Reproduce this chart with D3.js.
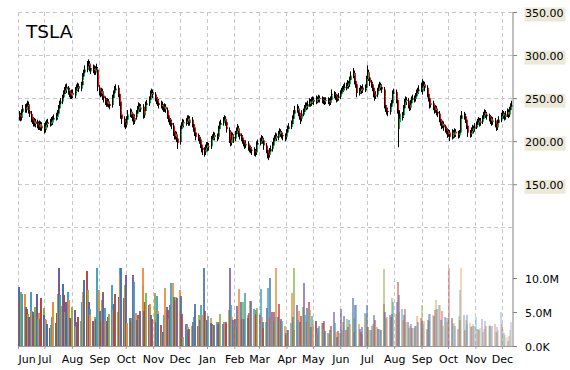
<!DOCTYPE html>
<html><head><meta charset="utf-8">
<script src="https://cdn.jsdelivr.net/npm/d3@7"></script>
<style>body{margin:0;background:#fff}svg{display:block}text{font-family:"DejaVu Sans",Verdana,sans-serif}</style>
</head><body><svg id="c" width="570" height="370"></svg>
<script>
const symbol = "TSLA";
const startDate = [2014, 5, 2];   // first trading day (Jun 2 2014)
const domainStart = [2014, 5, 1], domainEnd = [2015, 11, 13];

const open = [
231,230,227,234,235, 239,236,241,243,235, 231,227,225,220,223, 221,219,216,220,215, 217,216,213,219,222, 220,221,225,222,225, 227,228,232,238,244, 246,251,256,259,263, 261,258,256,252,256, 253,257,259,262,264,
261,265,271,275,280, 283,288,290,285,281, 284,285,280,283,283, 262,258,255,258,253, 249,247,243,246,243, 242,247,250,256,259, 262,255,246,236,231, 225,221,219,225,231, 231,234,231,229,223, 228,232,237,241,237,
240,236,230,235,242, 244,248,252,255,257, 254,250,248,244,244, 241,243,240,237,240, 236,230,226,224,221, 218,210,205,208,203, 199,208,214,218,222, 221,223,227,224,221, 225,220,216,210,207, 206,204,202,196,192,
190,187,192,196,193, 194,198,202,204,207, 206,205,210,214,219, 221,224,226,222,217, 213,202,198,207,205, 203,208,212,215,209, 206,204,201,198,195, 197,195,194,192,190, 189,188,187,191,196, 198,200,203,201,198,
195,190,186,184,188, 191,195,200,203,206, 204,208,211,209,207, 206,205,208,210,214, 217,220,226,232,235, 236,238,233,229,226, 232,234,238,241,240, 243,246,244,247,248, 246,247,249,248,250, 249,248,247,246,248,
247,247,245,248,253, 255,254,252,249,250, 252,255,258,260,262, 263,264,267,266,271, 276,279,272,270,266, 256,258,261,259,262, 260,262,272,280,274, 268,266,262,255,252, 254,258,262,265,263, 260,252,242,238,235,
234,240,244,250,255, 257,248,214,222,228, 228,230,238,245,248, 247,242,239,244,248, 250,249,252,256,258, 260,262,258,264,266, 262,255,250,246,242, 244,240,236,238,234, 232,226,222,218,220, 216,214,212,208,210,
205,208,210,207,211, 209,207,210,212,226, 230,229,225,218,214, 210,208,212,215,214, 217,219,222,224,221, 223,226,230,233,231, 229,227,224,226,222, 224,220,216,218,221, 225,229,232,230,228, 231,234,231,236,240];

const high = [
235,233,237,240,242, 243,244,247,246,239, 235,231,228,227,226, 225,223,224,223,222, 221,219,223,225,226, 226,228,228,229,231, 233,236,242,247,250, 254,259,263,266,267, 264,262,259,260,260, 260,263,266,268,267,
269,274,279,283,288, 293,295,293,289,288, 289,288,287,290,286, 265,262,262,261,256, 252,250,250,249,246, 251,254,259,264,266, 265,258,249,240,234, 229,226,229,234,236, 238,237,234,232,231, 236,241,245,244,243,
243,239,239,246,248, 252,256,259,261,260, 257,254,251,249,247, 247,246,243,244,243, 239,233,229,227,225, 221,213,212,211,206, 212,218,222,226,225, 227,230,230,227,229, 228,223,219,213,210, 209,207,205,199,195,
193,196,199,199,198, 202,206,208,211,210, 209,214,218,223,225, 228,230,229,225,220, 216,205,211,210,208, 212,216,220,218,212, 209,207,204,201,201, 200,198,197,195,193, 193,191,195,200,202, 204,207,206,204,201,
198,193,189,192,195, 199,204,207,210,209, 212,215,214,212,210, 209,212,214,218,221, 224,230,236,240,241, 243,241,236,232,236, 238,242,245,245,247, 250,249,251,252,251, 251,253,252,254,253, 252,251,250,251,251,
251,250,252,257,260, 258,257,255,254,256, 259,262,264,266,268, 268,271,270,275,281, 285,282,275,273,269, 262,265,264,266,265, 266,276,288,283,277, 271,269,265,258,258, 262,266,269,268,266, 263,255,245,241,239,
244,248,254,259,261, 260,251,237,232,236, 234,242,249,252,251, 250,245,248,252,254, 253,256,260,262,265, 268,265,272,270,269, 265,258,253,249,248, 247,243,242,241,237, 235,229,225,224,223, 219,217,215,214,213,
212,214,213,215,214, 212,213,216,230,235, 234,232,228,221,217, 213,216,219,218,221, 223,226,228,227,227, 230,234,237,236,234, 232,230,230,229,228, 227,223,222,225,229, 233,236,235,233,235, 238,237,240,244,247];

const low = [
224,223,224,230,232, 233,233,237,232,228, 222,220,217,217,216, 215,213,213,212,212, 211,209,210,216,216, 217,218,219,219,222, 224,225,229,234,240, 243,247,252,255,256, 254,251,249,249,250, 250,253,256,258,257,
258,262,267,271,276, 280,283,281,278,278, 279,277,277,280,258, 253,251,252,248,245, 242,240,240,239,237, 239,244,247,253,256, 251,241,232,226,220, 216,214,216,222,227, 228,227,223,219,220, 225,229,234,234,234,
232,226,227,232,239, 241,245,249,251,250, 246,243,241,240,238, 238,236,234,234,233, 226,222,219,217,214, 206,202,202,199,191, 196,205,211,215,216, 218,220,220,218,218, 216,211,206,203,201, 200,197,192,187,184,
182,184,189,188,189, 191,195,198,201,201, 200,202,207,211,216, 218,221,218,214,210, 198,194,195,200,198, 200,205,209,205,202, 200,197,194,191,192, 191,189,187,186,184, 183,182,184,188,193, 195,197,197,194,190,
186,180,178,181,185, 188,192,197,200,200, 201,205,205,203,201, 200,202,205,207,211, 214,217,223,229,231, 233,229,225,220,223, 229,231,235,236,237, 240,240,241,243,242, 243,244,244,245,245, 244,243,242,243,243,
243,241,242,245,250, 250,248,245,246,247, 249,252,255,257,259, 259,261,261,263,268, 273,268,266,262,251, 253,255,255,256,256, 257,259,269,270,264, 262,258,251,247,249, 251,255,259,259,256, 248,238,234,231,229,
231,237,241,247,252, 244,232,193,218,225, 224,227,235,242,242, 238,235,236,241,245, 245,246,249,253,255, 257,254,255,261,258, 251,246,242,238,239, 236,232,233,230,228, 222,218,214,215,212, 210,208,204,205,200,
202,205,203,204,205, 203,204,207,209,223, 225,221,214,210,205, 204,205,209,209,211, 214,216,219,217,218, 220,223,227,227,225, 223,220,221,218,219, 216,212,213,215,218, 222,226,226,224,225, 228,227,228,233,237];

const close = [
229,228,233,236,238, 237,240,242,236,232, 226,224,221,223,220, 219,217,220,216,218, 215,214,219,221,220, 222,224,223,225,227, 229,232,238,243,246, 250,255,259,262,260, 258,255,253,256,254, 256,259,262,263,261,
265,270,275,279,283, 287,290,285,282,284, 284,281,283,285,263, 258,256,258,252,250, 247,244,246,243,241, 247,250,255,259,261, 255,245,236,230,226, 222,219,225,230,231, 234,231,228,224,227, 232,237,240,238,239,
236,231,235,242,244, 248,252,255,256,254, 250,247,245,244,242, 242,240,238,240,237, 230,226,224,221,219, 210,206,208,203,198, 208,214,218,222,221, 223,226,224,222,225, 220,215,210,207,205, 204,202,196,192,190,
188,192,195,193,194, 198,202,204,207,205, 205,210,214,219,221, 224,226,222,218,214, 202,198,207,205,203, 208,212,215,209,206, 204,201,198,196,197, 195,194,192,190,189, 188,187,191,196,198, 200,203,201,198,195,
190,186,184,188,191, 195,200,203,206,204, 208,211,209,207,206, 205,208,210,214,217, 220,226,232,235,236, 238,233,229,226,232, 234,238,241,240,243, 246,244,247,248,246, 247,249,248,250,249, 248,247,246,248,247,
247,245,248,253,255, 254,252,249,250,252, 255,258,260,262,263, 264,267,266,271,276, 279,272,270,266,256, 258,261,259,262,260, 262,272,280,274,268, 266,262,255,252,254, 258,262,265,263,260, 252,242,238,235,234,
240,244,250,255,257, 248,236,226,228,232, 230,238,245,248,247, 242,239,244,248,250, 249,252,256,258,260, 262,258,264,266,262, 255,250,246,242,244, 240,236,238,234,232, 226,222,218,220,216, 214,212,208,210,205,
208,210,207,211,209, 207,210,212,226,230, 229,225,218,214,210, 208,212,215,214,217, 219,222,224,221,223, 226,230,233,231,229, 227,224,226,222,224, 220,216,218,221,225, 229,232,230,228,231, 234,231,236,240,242];

// volume in millions of shares
const volume = [
8.7,7.2,8.0,5.6,7.7, 7.7,5.7,5.5,4.75,4.3, 7.9,5.1,5.0,4.5,5.7, 7.7,4.0,4.85,4.0,7.0, 5.6,4.6,4.0,3.8,3.3, 2.65,3.1,3.0,4.2,6.5, 3.4,4.9,7.7,11.4,7.45, 5.9,9.1,7.45,5.0,6.4, 7.9,6.8,4.1,3.9,5.7, 5.25,2.9,2.8,3.5,4.3,
3.65,2.8,6.4,8.0,9.65, 11.0,8.2,6.5,5.5,4.5, 3.7,3.65,4.2,3.9,11.4, 8.3,5.15,3.75,6.7,8.0, 5.6,3.75,3.75,4.2,4.75, 5.9,8.9,5.25,6.2,7.6, 5.0,7.2,11.4,10.5,11.4, 7.05,8.9,10.4,3.4,3.4, 4.1,3.5,4.1,10.4,9.4, 4.9,3.8,4.5,4.1,5.1,
9.0,11.4,5.1,6.4,7.8, 6.1,6.0,6.2,4.6,4.0, 7.8,3.5,7.35,5.2,4.75, 3.1,2.0,2.1,4.5,8.5, 5.7,5.25,3.9,6.0,9.3, 9.2,7.25,6.7,7.2,7.05, 5.2,8.2,7.35,4.75,1.3, 3.3,3.2,2.8,2.3,2.5, 3.0,3.6,4.2,5.25,6.2, 3.0,4.6,3.8,6.0,4.5,
11.4,5.1,3.65,3.8,4.4, 4.1,3.4,3.3,2.9,3.1, 3.5,2.9,3.2,3.6,4.75, 3.3,3.5,3.5,3.2,3.5, 5.25,11.4,6.1,4.2,3.8, 4.0,2.8,5.9,3.9,8.4, 6.5,3.9,6.4,3.9,7.8, 4.5,4.1,4.9,6.6,6.6, 5.5,4.5,5.25,4.75,5.6, 4.6,8.4,4.3,3.6,2.65,
3.5,5.6,8.5,4.1,10.0, 5.0,3.65,5.0,4.2,11.4, 4.3,6.2,3.65,3.9,3.65, 2.9,1.95,1.65,2.3,2.3, 3.4,7.8,4.3,2.3,11.4, 6.1,3.8,5.1,3.5,4.4, 5.7,9.3,4.5,3.6,5.6, 6.4,5.25,2.8,4.4,3.3, 3.65,3.65,1.95,2.65,3.0, 3.4,3.4,3.65,2.55,2.2,
1.95,1.8,2.3,2.9,2.1, 5.0,3.4,2.1,1.3,2.15, 1.95,5.5,2.3,3.5,4.4, 2.3,3.9,2.8,3.8,3.3, 7.05,2.1,4.1,6.0,6.1, 3.3,2.55,2.0,1.8,2.8, 4.85,4.75,6.0,2.8,2.3, 2.3,3.0,3.3,4.5,3.8, 2.8,2.5,2.55,2.3,2.4, 6.2,11.3,5.0,4.1,4.3,
4.6,4.3,7.05,4.75,6.5, 4.75,6.5,9.4,5.0,7.55, 5.5,3.8,4.6,5.4,3.5, 3.5,2.6,3.0,3.3,2.65, 2.65,3.0,2.9,4.4,3.6, 4.1,6.0,3.65,3.2,3.65, 2.45,3.8,3.65,4.75,4.75, 4.5,4.4,5.25,6.7,5.5, 6.0,6.0,3.8,5.1,3.0, 4.3,4.1,3.6,4.1,11.4,
4.1,4.1,3.3,3.4,3.0, 2.55,4.4,3.8,8.2,11.4, 4.5,2.3,3.8,4.6,3.3, 3.4,2.8,2.9,3.2,2.9, 4.3,2.55,2.55,2.3,2.6, 4.0,2.1,2.55,3.65,3.0, 2.9,2.9,3.1,2.8,2.9, 3.3,2.1,2.8,2.1,2.4, 5.0,3.3,2.55,1.95,1.6, 1.3,0.8,1.5,2.3,3.5];

const priceGrid = [100,150,200,250,300,350];
const priceTicks = [150,200,250,300,350];
const volTicks = [0,5,10];
const volLabels = ["0.0K","5.0M","10.0M"];
const volColors = ["#3F72B0","#B8433F","#8AAD48","#74579A","#3DA0BC","#F08A38"];

// trading days (weekdays) from the first date
const dates = [];
{ let d = new Date(startDate[0], startDate[1], startDate[2]);
  while (dates.length < close.length) { const w = d.getDay(); if (w !== 0 && w !== 6) dates.push(new Date(d)); d.setDate(d.getDate() + 1); } }

const L = 18, R = 512.5;
const svg = d3.select("#c");
const x = d3.scaleTime().domain([new Date(...domainStart), new Date(...domainEnd)]).range([L, R]);
const yP = d3.scaleLinear().domain([100, 350]).range([227.3, 12]);
const yV = d3.scaleLinear().domain([0, 10]).range([346, 278]);

// grid
const grid = svg.append("g").attr("stroke", "#c8c8c8").attr("stroke-dasharray", "4,3").attr("stroke-width", 1);
priceGrid.forEach(v => { const y = Math.round(yP(v)) + 0.5;
  grid.append("line").attr("x1", L).attr("x2", R).attr("y1", y).attr("y2", y); });
const months = x.ticks(d3.timeMonth.every(1));
months.forEach(m => { const xx = Math.round(x(m)) + 0.5;
  grid.append("line").attr("x1", xx).attr("x2", xx).attr("y1", 12).attr("y2", 346); });

// volume bars
const n = volume.length;
svg.append("g").attr("shape-rendering", "crispEdges").selectAll("rect").data(volume).join("rect")
  .attr("x", (v, i) => Math.round(x(dates[i])) - 1)
  .attr("width", 2)
  .attr("y", v => yV(v))
  .attr("height", v => yV(0) - yV(v))
  .attr("fill", (v, i) => volColors[i % volColors.length])
  .attr("opacity", (v, i) => 1 - 0.75 * Math.pow(i / (n - 1), 1.6));

// candles: wicks first, then coloured bodies
const cg = svg.append("g");
close.forEach((c, i) => {
  const cx = Math.round(x(dates[i]));
  const o = open[i], hi = Math.max(high[i], o, c), lo = Math.min(low[i], o, c);
  cg.append("rect").attr("x", cx).attr("width", 1)
    .attr("y", yP(hi)).attr("height", Math.max(1, yP(lo) - yP(hi))).attr("fill", "#000");
});
close.forEach((c, i) => {
  const cx = Math.round(x(dates[i]));
  const o = open[i];
  const top = yP(Math.max(o, c)), bot = yP(Math.min(o, c));
  cg.append("rect").attr("x", cx + 1).attr("width", 1)
    .attr("y", top).attr("height", Math.max(1, bot - top))
    .attr("fill", c >= o ? "#00b050" : "#ff0000");
});

// bottom axis
const xa = svg.append("g").attr("transform", "translate(0,346)")
  .call(d3.axisBottom(x).tickValues(months).tickFormat(d3.timeFormat("%b")).tickSize(3).tickPadding(6).tickSizeOuter(0));
xa.select(".domain").attr("stroke", "#999");
xa.selectAll(".tick line").attr("stroke", "#999");
xa.selectAll("text").attr("font-size", 11).attr("fill", "#000").attr("font-family", "DejaVu Sans, Verdana, sans-serif");
xa.selectAll(".tick").each(function(d) {
  if (x(d) - 10 < L) d3.select(this).select("text").attr("text-anchor", "start").attr("x", 0);
});

// right axis line
svg.append("line").attr("x1", R + 0.5).attr("x2", R + 0.5).attr("y1", 12).attr("y2", 346)
  .attr("stroke", "#808080").attr("stroke-width", 1);

// price axis with label boxes
const pa = svg.append("g").attr("transform", `translate(${R + 0.5},0)`)
  .call(d3.axisRight(yP).tickValues(priceTicks).tickFormat(d => d.toFixed(2)).tickSize(4).tickPadding(8).tickSizeOuter(0));
pa.select(".domain").remove();
pa.selectAll(".tick line").attr("stroke", "#808080");
pa.selectAll(".tick").insert("rect", "text").attr("x", 11.5).attr("y", -5).attr("width", 41).attr("height", 14).attr("fill", "#ECE9D8");
pa.selectAll("text").attr("font-size", 11).attr("fill", "#000").attr("font-family", "DejaVu Sans, Verdana, sans-serif").attr("dy", "0.42em");

// volume axis
const va = svg.append("g").attr("transform", `translate(${R + 0.5},0)`)
  .call(d3.axisRight(yV).tickValues(volTicks).tickFormat((d, i) => volLabels[i]).tickSize(4).tickPadding(8).tickSizeOuter(0));
va.select(".domain").remove();
va.selectAll(".tick line").attr("stroke", "#808080");
va.selectAll("text").attr("font-size", 11).attr("fill", "#000").attr("font-family", "DejaVu Sans, Verdana, sans-serif").attr("dy", "0.42em");

// title
svg.append("text").attr("x", 26).attr("y", 37.5).attr("font-size", 18.5).attr("fill", "#000").text(symbol);
</script></body></html>
